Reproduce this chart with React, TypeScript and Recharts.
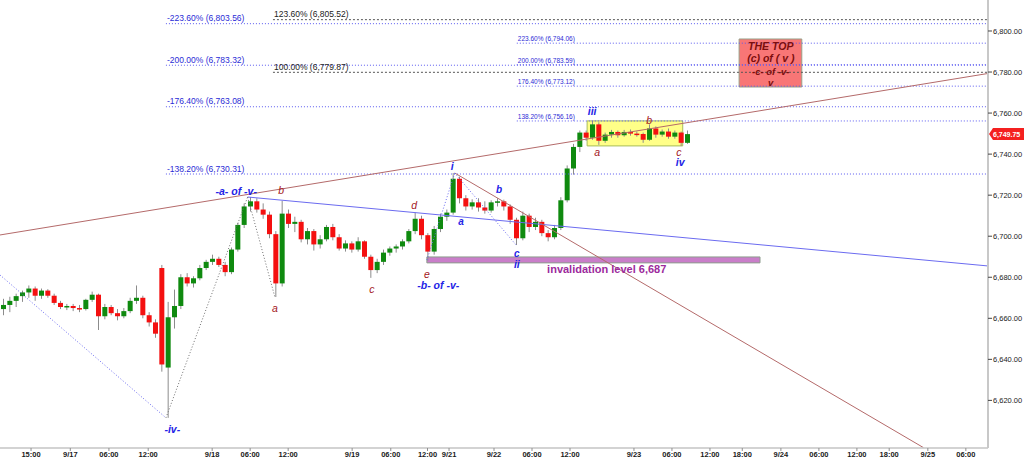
import React from 'react';
import { ComposedChart, Bar, XAxis, YAxis, ReferenceLine, ReferenceArea, ReferenceDot } from 'recharts';

// Hourly OHLC candles [open, high, low, close], one per trading-hour slot
const candles: [number, number, number, number][] = [
  [6664.5, 6669.5, 6661.5, 6666.5],
  [6666.5, 6670.5, 6663.0, 6668.5],
  [6668.5, 6672.0, 6665.5, 6670.8],
  [6670.8, 6673.5, 6668.0, 6672.6],
  [6672.6, 6676.0, 6670.0, 6674.5],
  [6674.5, 6675.5, 6668.5, 6671.0],
  [6671.0, 6674.5, 6669.5, 6673.5],
  [6673.5, 6674.2, 6670.0, 6671.0],
  [6671.0, 6672.0, 6666.5, 6667.5],
  [6667.5, 6668.5, 6664.5, 6665.5],
  [6665.5, 6667.0, 6664.0, 6666.0],
  [6666.0, 6667.0, 6663.5, 6665.0],
  [6665.0, 6666.5, 6663.0, 6664.5],
  [6664.5, 6669.5, 6663.8, 6669.0],
  [6669.0, 6673.0, 6668.0, 6671.5],
  [6671.5, 6672.0, 6654.3, 6661.0],
  [6661.0, 6667.0, 6659.5, 6665.5],
  [6665.5, 6666.5, 6661.5, 6662.5],
  [6662.5, 6664.5, 6659.0, 6661.0],
  [6661.0, 6665.0, 6660.0, 6663.5],
  [6663.5, 6670.0, 6662.5, 6668.5],
  [6668.5, 6676.0, 6667.0, 6670.0],
  [6670.0, 6671.0, 6660.0, 6661.5],
  [6661.5, 6663.0, 6656.0, 6658.0],
  [6658.0, 6659.5, 6650.5, 6652.5],
  [6684.5, 6686.0, 6634.0, 6637.5],
  [6636.0, 6668.0, 6611.5, 6660.5],
  [6660.5, 6674.0, 6655.0, 6666.0],
  [6666.0, 6681.5, 6664.5, 6680.0],
  [6680.0, 6682.0, 6675.5, 6677.0],
  [6677.0, 6680.5, 6675.0, 6679.5],
  [6679.5, 6686.0, 6678.5, 6684.5],
  [6684.5, 6688.5, 6683.5, 6687.5],
  [6687.5, 6691.0, 6686.0, 6689.0],
  [6689.0, 6690.0, 6685.0, 6686.0],
  [6686.0, 6687.5, 6680.5, 6682.5],
  [6682.5, 6694.5, 6681.5, 6693.5],
  [6693.5, 6706.5, 6692.5, 6705.5],
  [6705.5, 6716.0, 6704.0, 6714.5],
  [6714.5, 6719.1, 6712.0, 6717.0],
  [6717.0, 6718.5, 6711.5, 6713.0],
  [6713.0, 6716.0, 6708.5, 6710.5],
  [6710.5, 6712.0, 6699.0, 6701.0],
  [6701.0, 6702.5, 6670.4, 6677.0],
  [6677.0, 6717.2, 6675.5, 6711.0],
  [6711.0, 6713.0, 6704.0, 6706.0],
  [6706.0, 6709.5, 6702.0, 6707.0],
  [6707.0, 6708.0, 6697.0, 6698.5],
  [6698.5, 6704.0, 6696.0, 6702.5],
  [6702.5, 6703.5, 6693.0, 6696.0],
  [6696.0, 6700.5, 6694.0, 6698.5],
  [6698.5, 6705.5, 6697.5, 6704.5],
  [6704.5, 6706.0, 6698.0, 6699.5],
  [6699.5, 6701.0, 6693.0, 6694.0],
  [6694.0, 6698.0, 6692.5, 6696.5],
  [6696.5, 6697.5, 6692.0, 6693.5],
  [6693.5, 6699.5, 6692.5, 6697.5],
  [6697.5, 6698.0, 6689.0, 6690.0],
  [6690.0, 6691.0, 6679.7, 6683.5],
  [6683.5, 6689.0, 6682.0, 6687.5],
  [6687.5, 6693.5, 6686.0, 6692.0],
  [6692.0, 6695.0, 6690.5, 6694.0],
  [6694.0, 6696.0, 6692.0, 6695.0],
  [6695.0, 6698.5, 6693.5, 6697.5],
  [6697.5, 6703.5, 6696.5, 6702.5],
  [6702.5, 6711.5, 6701.0, 6708.5],
  [6708.5, 6710.0, 6698.5, 6700.5],
  [6700.5, 6701.5, 6688.0, 6692.5],
  [6692.5, 6705.0, 6691.0, 6703.5],
  [6703.5, 6711.0, 6702.0, 6709.5],
  [6709.5, 6713.0, 6707.5, 6711.5],
  [6711.5, 6730.8, 6710.5, 6728.0],
  [6728.0, 6729.0, 6716.0, 6718.5],
  [6718.5, 6720.0, 6712.5, 6714.5],
  [6714.5, 6718.0, 6713.0, 6716.5],
  [6716.5, 6718.5, 6712.0, 6714.0],
  [6714.0, 6717.0, 6711.0, 6712.5],
  [6712.5, 6717.5, 6711.5, 6716.5],
  [6716.5, 6718.5, 6714.5, 6717.0],
  [6717.0, 6717.8, 6712.5, 6714.5],
  [6714.5, 6715.5, 6706.0, 6708.0],
  [6708.0, 6709.0, 6695.7, 6699.0],
  [6699.0, 6712.0, 6698.0, 6710.0],
  [6710.0, 6711.0, 6702.0, 6704.5],
  [6704.5, 6709.0, 6703.0, 6707.0],
  [6707.0, 6708.0, 6700.0, 6701.5],
  [6701.5, 6703.0, 6697.5, 6699.5],
  [6699.5, 6705.5, 6698.5, 6704.0],
  [6704.0, 6719.0, 6703.0, 6717.5],
  [6717.5, 6734.5, 6716.5, 6733.0],
  [6733.0, 6745.0, 6730.0, 6743.5],
  [6743.5, 6751.5, 6741.0, 6750.5],
  [6750.5, 6751.5, 6746.5, 6748.0],
  [6748.0, 6756.2, 6747.0, 6754.5],
  [6754.5, 6755.5, 6744.5, 6746.5],
  [6746.5, 6750.5, 6745.5, 6749.5],
  [6749.5, 6751.8, 6748.0, 6750.8],
  [6750.8, 6751.5, 6748.0, 6749.2],
  [6749.2, 6751.8, 6748.5, 6750.8],
  [6750.8, 6752.0, 6749.0, 6750.0],
  [6750.0, 6751.0, 6748.5, 6749.8],
  [6749.8, 6750.5, 6745.5, 6747.0],
  [6747.0, 6754.5, 6746.5, 6752.5],
  [6752.5, 6753.5, 6748.0, 6749.5],
  [6749.5, 6752.0, 6748.5, 6751.0],
  [6751.0, 6752.5, 6747.5, 6748.5],
  [6748.5, 6751.5, 6747.5, 6750.5],
  [6750.5, 6751.0, 6744.0, 6745.5],
  [6745.5, 6751.5, 6745.0, 6749.75],
];

// Time axis (trading-hour slots) and labels
const tickSlots = [4.4, 10.6, 16.7, 22.9, 33.0, 39.0, 45.0, 55.1, 61.2, 67.0, 70.4, 77.5, 83.5, 89.5, 99.6, 105.6, 111.6, 116.7, 122.8, 128.8, 134.8, 139.9, 146.0, 152.0];
const tickLabels = ['15:00', '9/17', '06:00', '12:00', '9/18', '06:00', '12:00', '9/19', '06:00', '12:00', '9/21', '9/22', '06:00', '12:00', '9/23', '06:00', '12:00', '18:00', '9/24', '06:00', '12:00', '18:00', '9/25', '06:00'];
const slotDomain: [number, number] = [-0.5, 155.5];

const priceTicks = [6620, 6640, 6660, 6680, 6700, 6720, 6740, 6760, 6780, 6800];
const priceDomain: [number, number] = [6596.8, 6815.1];
const lastPrice = 6749.75;

// Fibonacci levels: [label, value, start slot]
const fibBlue: [string, number, number][] = [
  ['-223.60% (6,803.56)', 6803.56, 25.7],
  ['-200.00% (6,783.32)', 6783.32, 25.7],
  ['-176.40% (6,763.08)', 6763.08, 25.7],
  ['-138.20% (6,730.31)', 6730.31, 25.7],
];
const fibBlack: [string, number, number][] = [
  ['123.60% (6,805.52)', 6805.52, 42.6],
  ['100.00% (6,779.87)', 6779.87, 42.6],
];
const fibSmall: [string, number, number][] = [
  ['223.60% (6,794.06)', 6794.06, 81.1],
  ['200.00% (6,783.59)', 6783.59, 81.1],
  ['176.40% (6,773.12)', 6773.12, 81.1],
  ['138.20% (6,756.16)', 6756.16, 81.1],
];

// Trend lines: [slot1, value1, slot2, value2, kind]
const trendLines: [number, number, number, number, string][] = [
  [-0.5, 6700.6, 155.5, 6779.3, 'red'],
  [38.6, 6719.1, 155.5, 6685.5, 'blue'],
  [71.3, 6730.8, 145.3, 6597.0, 'red'],
];

// Dotted wave legs
const waveLegs: [number, number, number, number, string][] = [
  [-0.5, 6681.1, 25.7, 6611.5, 'blue'],
  [25.7, 6611.5, 38.6, 6719.1, 'gray'],
  [38.6, 6719.1, 42.9, 6670.4, 'gray'],
  [66.9, 6688.4, 71.3, 6730.8, 'blue'],
  [71.3, 6730.8, 81.0, 6695.7, 'blue'],
];

// Wave labels: [text, slot, value, kind]
const waveLabels: [string, number, number, string][] = [
  ['-iv-', 26.7, 6605.6, 'blueBig'],
  ['-a- of -v-', 36.8, 6722.0, 'blueBig'],
  ['b', 43.9, 6722.5, 'red'],
  ['a', 42.9, 6665.0, 'red'],
  ['c', 58.2, 6673.8, 'red'],
  ['d', 64.9, 6715.2, 'red'],
  ['e', 66.9, 6681.1, 'red'],
  ['-b- of -v-', 68.7, 6675.8, 'blueBig'],
  ['i', 70.9, 6734.2, 'blueBig'],
  ['a', 72.3, 6707.0, 'blue'],
  ['b', 78.3, 6723.0, 'blue'],
  ['c', 81.1, 6691.8, 'blue'],
  ['ii', 81.1, 6686.0, 'blueBig'],
  ['iii', 93.0, 6761.0, 'blueBig'],
  ['a', 93.8, 6741.0, 'red'],
  ['b', 102.0, 6756.6, 'red'],
  ['c', 106.7, 6741.0, 'red'],
  ['iv', 106.9, 6735.7, 'blueBig'],
  ['invalidation level 6,687', 95.3, 6683.6, 'purple'],
];

// Boxes: [slot1, slot2, value1, value2]
const consolidationBox = [92.2, 107.3, 6744.0, 6756.2];
const invalidationBar = [66.9, 119.5, 6687.0, 6689.9];
const topBox = [116.2, 126.1, 6772.7, 6796.1];
const topBoxLines: [string, number, boolean][] = [
  ['THE TOP', 6792.2, true],
  ['(c) of ( v )', 6786.6, true],
  ['-c- of -v-', 6780.5, false],
  ['v', 6775.1, false],
];
const topBoxSlot = 121.2;

const FONT = '"Liberation Sans", Arial, sans-serif';
const data = candles.map((k, i) => ({ slot: i, o: k[0], h: k[1], l: k[2], c: k[3] }));

const fmtPrice = (v: number) =>
  v.toLocaleString('en-US', { minimumFractionDigits: 2, maximumFractionDigits: 2 });

const renderCandle = (props: any) => {
  const { x, y, width, height, payload } = props;
  if (x == null || y == null || !payload) return <g />;
  const { o, h, l, c } = payload;
  const ratio = h - l > 0 ? height / (h - l) : 0;
  const mid = x + width / 2;
  const top = y + (h - Math.max(o, c)) * ratio;
  const bot = y + (h - Math.min(o, c)) * ratio;
  const up = c >= o;
  return (
    <g>
      <line x1={mid} x2={mid} y1={y} y2={y + height} stroke="#8c8c8c" strokeWidth={1} />
      <rect x={x} y={top} width={width} height={Math.max(1.5, bot - top)} fill={up ? '#0f8a0f' : '#f41010'} />
    </g>
  );
};

const labelStyles: Record<string, any> = {
  red: { fill: '#a3161c', fontSize: 10.5, fontStyle: 'italic', fontWeight: 'normal' },
  blue: { fill: '#2323e6', fontSize: 10, fontStyle: 'italic', fontWeight: 'bold' },
  blueBig: { fill: '#2323e6', fontSize: 10.5, fontStyle: 'italic', fontWeight: 'bold' },
  purple: { fill: '#9c2a9c', fontSize: 11, fontStyle: 'normal', fontWeight: 'bold' },
};

const textDot = (key: string, slot: number, value: number, text: string, style: any, anchor: string, dy: number) => (
  <ReferenceDot
    key={key}
    x={slot}
    y={value}
    r={0}
    ifOverflow="visible"
    shape={(p: any) => (
      <text x={p.cx + (anchor === 'start' ? 1 : 0)} y={p.cy + dy} textAnchor={anchor} fontFamily={FONT} {...style}>
        {text}
      </text>
    )}
  />
);

export default function App() {
  const tickFmt = (v: number) => {
    const i = tickSlots.indexOf(v);
    return i >= 0 ? tickLabels[i] : '';
  };
  return (
    <div style={{ position: 'absolute', left: 0, top: 0, width: 1024, height: 463, background: '#fff' }}>
      <ComposedChart width={1024} height={463} data={data} margin={{ top: 0, right: 0, bottom: 0, left: 0 }}>
        <XAxis
          type="number"
          dataKey="slot"
          domain={slotDomain}
          allowDataOverflow
          ticks={tickSlots}
          interval={0}
          tickFormatter={tickFmt}
          height={15}
          tickSize={3}
          tickMargin={1}
          axisLine={{ stroke: '#c4c4c4', strokeWidth: 1.5 }}
          tickLine={{ stroke: '#909090' }}
          tick={{ fill: '#1a1a1a', fontSize: 7.5, fontWeight: 'bold', fontFamily: FONT }}
        />
        <YAxis
          orientation="right"
          type="number"
          domain={priceDomain}
          allowDataOverflow
          ticks={priceTicks}
          interval={0}
          tickFormatter={fmtPrice}
          width={36}
          tickSize={4}
          tickMargin={1}
          axisLine={{ stroke: '#c8c8c8', strokeWidth: 2 }}
          tickLine={{ stroke: '#444' }}
          tick={{ fill: '#1a1a1a', fontSize: 7.5, fontFamily: FONT }}
        />

        <ReferenceArea x1={consolidationBox[0]} x2={consolidationBox[1]} y1={consolidationBox[2]} y2={consolidationBox[3]}
          fill="#ffff88" fillOpacity={1} stroke="#a8bc5c" strokeWidth={1} ifOverflow="visible" />
        <ReferenceArea x1={invalidationBar[0]} x2={invalidationBar[1]} y1={invalidationBar[2]} y2={invalidationBar[3]}
          fill="#c97ec9" fillOpacity={1} stroke="#8e9e8e" strokeWidth={1} ifOverflow="visible" />
        <ReferenceArea x1={topBox[0]} x2={topBox[1]} y1={topBox[2]} y2={topBox[3]}
          fill="#f87676" fillOpacity={1} stroke="#98a088" strokeWidth={1} ifOverflow="visible" />

        {fibBlue.map((f, i) => (
          <ReferenceLine key={'fb' + i} segment={[{ x: f[2], y: f[1] }, { x: slotDomain[1], y: f[1] }]}
            stroke="#5a5af0" strokeDasharray="1 2" strokeWidth={1} ifOverflow="visible" />
        ))}
        {fibBlack.map((f, i) => (
          <ReferenceLine key={'fk' + i} segment={[{ x: f[2], y: f[1] }, { x: slotDomain[1], y: f[1] }]}
            stroke="#555" strokeDasharray="2 2" strokeWidth={1} ifOverflow="visible" />
        ))}
        {fibSmall.map((f, i) => (
          <ReferenceLine key={'fs' + i} segment={[{ x: f[2], y: f[1] }, { x: slotDomain[1], y: f[1] }]}
            stroke="#5a5af0" strokeDasharray="1 2" strokeWidth={1} ifOverflow="visible" />
        ))}

        {trendLines.map((t, i) => (
          <ReferenceLine key={'tl' + i} segment={[{ x: t[0], y: t[1] }, { x: t[2], y: t[3] }]}
            stroke={t[4] === 'red' ? '#b46a6a' : '#6b6bf0'} strokeWidth={1} ifOverflow="visible" />
        ))}
        {waveLegs.map((t, i) => (
          <ReferenceLine key={'wl' + i} segment={[{ x: t[0], y: t[1] }, { x: t[2], y: t[3] }]}
            stroke={t[4] === 'blue' ? '#6b6bf0' : '#707070'} strokeDasharray="1 2" strokeWidth={1} ifOverflow="visible" />
        ))}

        <Bar dataKey={(d: any) => [d.l, d.h]} barSize={5} shape={renderCandle} isAnimationActive={false} />

        {fibBlue.map((f, i) => textDot('tb' + i, f[2], f[1], f[0], { fill: '#2b2bd6', fontSize: 8.5 }, 'start', -2.5))}
        {fibBlack.map((f, i) => textDot('tk' + i, f[2], f[1], f[0], { fill: '#222', fontSize: 8.5 }, 'start', -2.5))}
        {fibSmall.map((f, i) => textDot('ts' + i, f[2], f[1], f[0], { fill: '#2b2bd6', fontSize: 6.5 }, 'start', -2))}

        {waveLabels.map((w, i) => textDot('wv' + i, w[1], w[2], w[0], labelStyles[w[3]], 'middle', 3.5))}
        {topBoxLines.map((t, i) =>
          textDot('top' + i, topBoxSlot, t[1], t[0],
            { fill: '#7c0d0d', fontSize: t[2] ? 10.5 : 9.5, fontStyle: 'italic', fontWeight: 'bold' }, 'middle', 3.5))}

        <ReferenceDot
          x={slotDomain[1]}
          y={lastPrice}
          r={0}
          ifOverflow="visible"
          shape={(p: any) => (
            <g>
              <polygon
                points={`${p.cx + 1},${p.cy} ${p.cx + 5},${p.cy - 6} ${p.cx + 36},${p.cy - 6} ${p.cx + 36},${p.cy + 6} ${p.cx + 5},${p.cy + 6}`}
                fill="#f42020"
              />
              <text x={p.cx + 5} y={p.cy + 2.5} fill="#fff" fontSize={7} fontWeight="bold" fontFamily={FONT}>
                {fmtPrice(lastPrice)}
              </text>
            </g>
          )}
        />
      </ComposedChart>
    </div>
  );
}
